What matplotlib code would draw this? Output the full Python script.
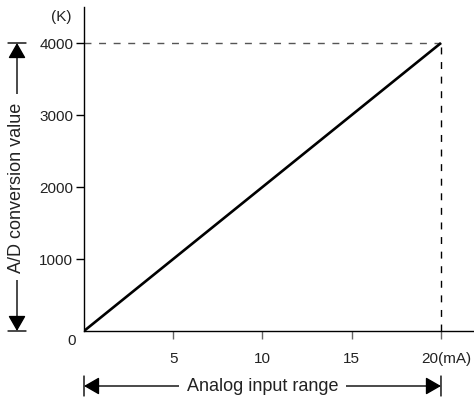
import matplotlib
matplotlib.use("Agg")
import matplotlib.pyplot as plt
from matplotlib.transforms import ScaledTranslation

# ---- data ----
current_mA = [0, 20]
conversion_value = [0, 4000]
x_ticks = [5, 10, 15, 20]
x_tick_labels = ["5", "10", "15", "20(mA)"]
y_ticks = [1000, 2000, 3000, 4000]
y_tick_labels = ["1000", "2000", "3000", "4000"]
max_current = 20
max_value = 4000
y_label = "A/D conversion value"
x_label = "Analog input range"
y_unit = "(K)"
origin_label = "0"

plt.rcParams["font.family"] = ["Liberation Sans", "DejaVu Sans"]
text_color = "#222222"

W, H = 474, 402
fig = plt.figure(figsize=(W / 100, H / 100), dpi=100)
ax = fig.add_axes([84 / W, 70 / H, 390 / W, 324 / H])
ax.set_xlim(0, 21.85)
ax.set_ylim(0, 4500)

for s in ("top", "right"):
    ax.spines[s].set_visible(False)
for s in ("left", "bottom"):
    ax.spines[s].set_linewidth(1.0)
    ax.spines[s].set_color("black")

# main line
ax.plot(current_mA, conversion_value, color="black", lw=1.9,
        solid_capstyle="butt", zorder=3)

# dashed guides
ax.plot([0, max_current], [max_value, max_value], color="#555555", lw=1.0,
        dashes=(5, 5.5), zorder=2)
ax.plot([max_current, max_current], [0, max_value], color="black", lw=1.0,
        dashes=(5, 5.5), zorder=2)

# ticks
ax.set_xticks(x_ticks)
ax.set_xticklabels(x_tick_labels, fontsize=11, color=text_color)
ax.set_yticks(y_ticks)
ax.set_yticklabels(y_tick_labels, fontsize=11, color=text_color)
ax.tick_params(axis="x", direction="out", length=5.8, width=1.0,
               color="#666666", pad=8.5)
ax.tick_params(axis="y", direction="out", length=5.8, width=1.0,
               color="black", pad=2)
last = ax.get_xticklabels()[-1]
last.set_ha("left")
last.set_transform(last.get_transform() +
                   ScaledTranslation(-20 / 100, 0, fig.dpi_scale_trans))

# unit label and origin label
ax.annotate(y_unit, xy=(0, 1), xycoords="axes fraction",
            xytext=(-12, -9), textcoords="offset pixels",
            ha="right", va="center", fontsize=11, color=text_color)
ax.annotate(origin_label, xy=(0, 0), xycoords="data",
            xytext=(-12, -9), textcoords="offset pixels",
            ha="center", va="center", fontsize=11, color=text_color)

# vertical double arrow with label
ax_x = 17 / W
aprops = dict(arrowstyle="<|-|>,head_length=0.47,head_width=0.27",
              color="black", lw=1.0, shrinkA=0, shrinkB=0,
              mutation_scale=20)
ax.annotate("", xy=(ax_x, max_value), xycoords=("figure fraction", "data"),
            xytext=(ax_x, 0), textcoords=("figure fraction", "data"),
            arrowprops=aprops, annotation_clip=False)
for yv in (0, max_value):
    ax.annotate("", xy=(8 / W, yv), xycoords=("figure fraction", "data"),
                xytext=(26 / W, yv), textcoords=("figure fraction", "data"),
                arrowprops=dict(arrowstyle="-", color="black", lw=1.0,
                                shrinkA=0, shrinkB=0),
                annotation_clip=False)
ax.annotate(y_label, xy=(ax_x, max_value / 2), xycoords=("figure fraction", "data"),
            ha="center", va="center", rotation=90, fontsize=13, color=text_color,
            bbox=dict(boxstyle="square,pad=0.45", fc="white", ec="none"),
            annotation_clip=False, zorder=5)

# horizontal double arrow with label
ay = (H - 387) / H
ax.annotate("", xy=(max_current, ay), xycoords=("data", "figure fraction"),
            xytext=(0, ay), textcoords=("data", "figure fraction"),
            arrowprops=aprops, annotation_clip=False)
for xv in (0, max_current):
    ax.annotate("", xy=(xv, (H - 377) / H), xycoords=("data", "figure fraction"),
                xytext=(xv, (H - 397) / H), textcoords=("data", "figure fraction"),
                arrowprops=dict(arrowstyle="-", color="black", lw=1.0,
                                shrinkA=0, shrinkB=0),
                annotation_clip=False)
ax.annotate(x_label, xy=(max_current / 2, ay), xycoords=("data", "figure fraction"),
            ha="center", va="center", fontsize=13, color=text_color,
            bbox=dict(boxstyle="square,pad=0.45", fc="white", ec="none"),
            annotation_clip=False, zorder=5)

fig.savefig("out.png", dpi=100)
